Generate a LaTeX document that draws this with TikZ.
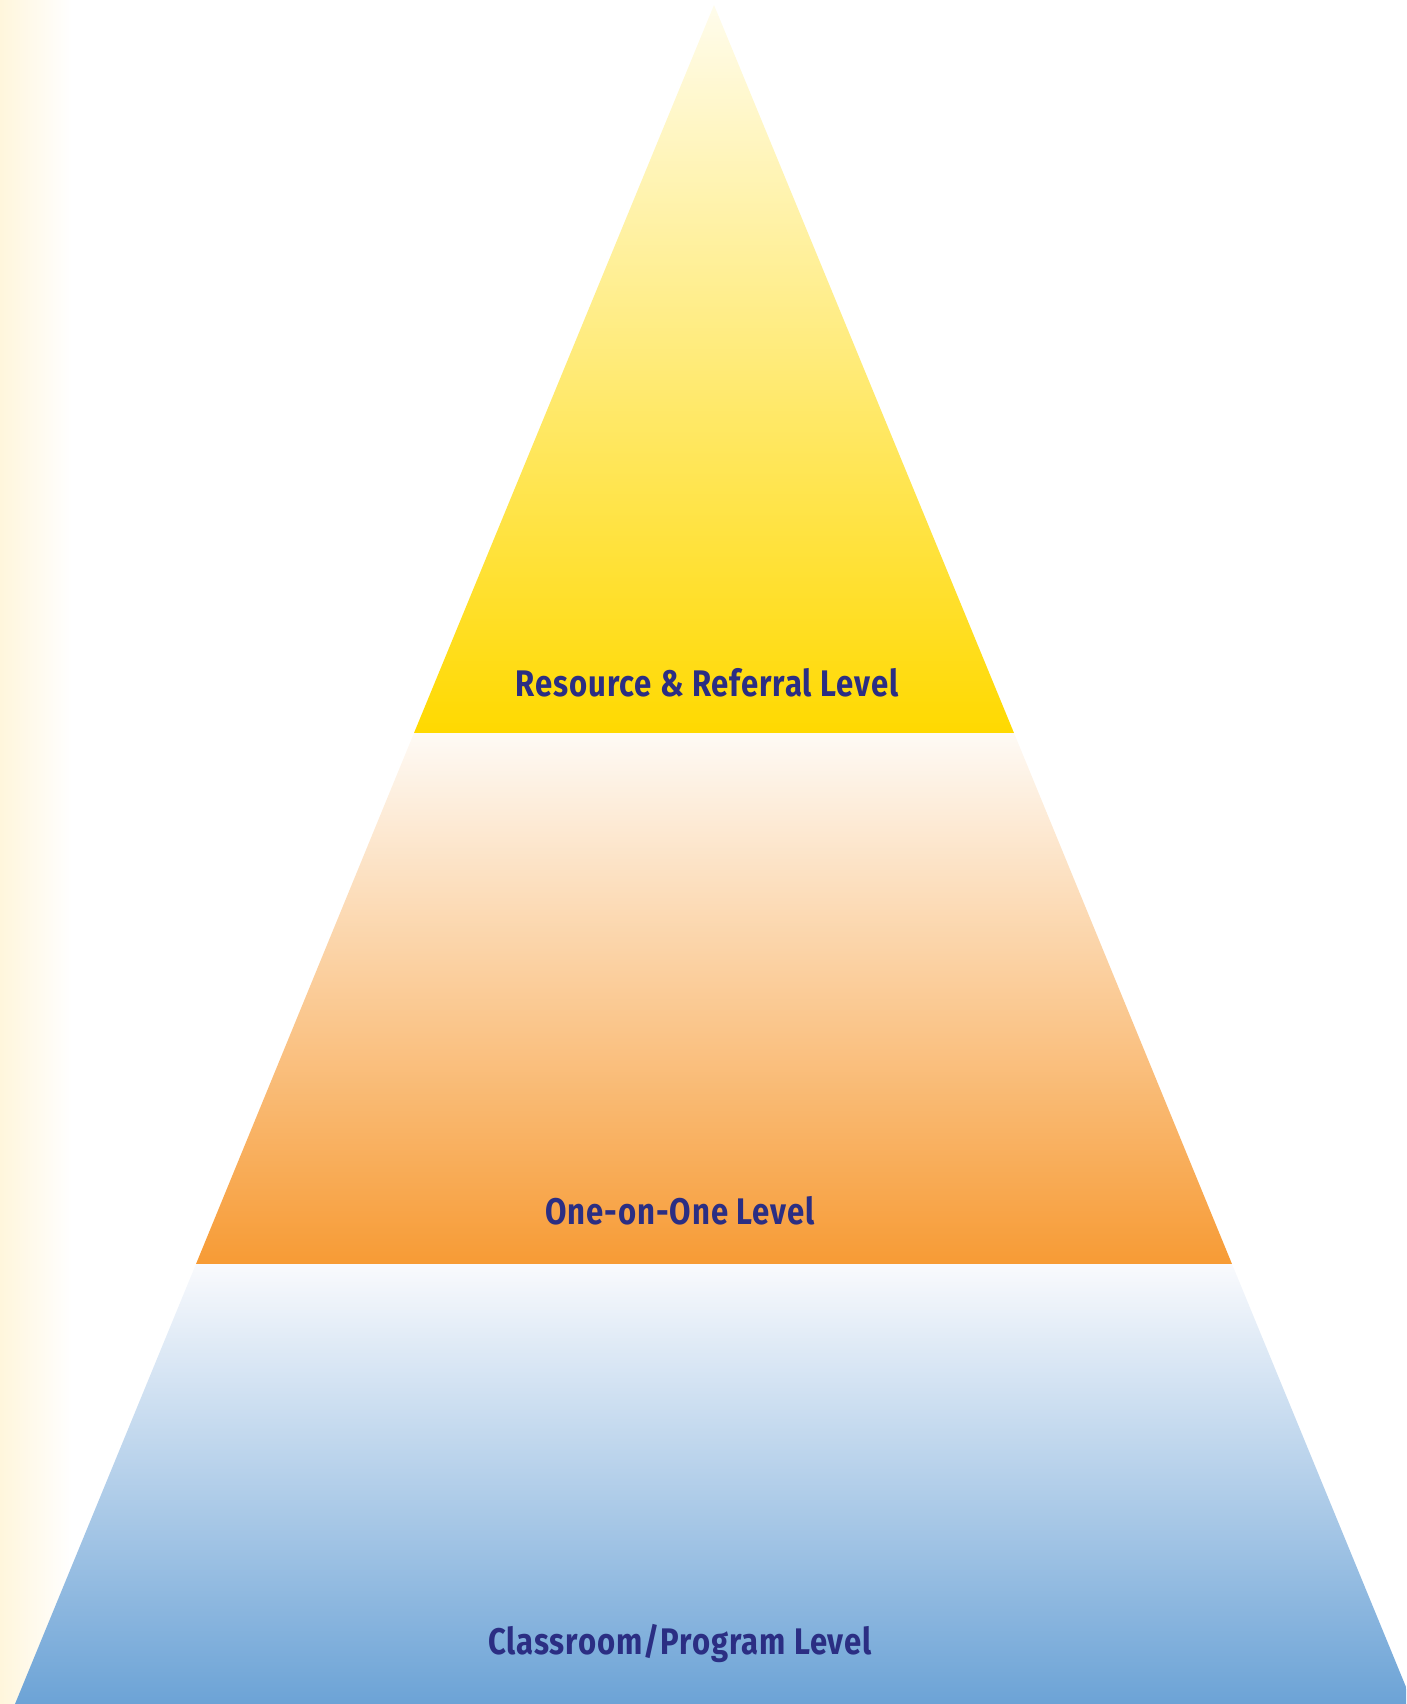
\documentclass[tikz,border=0pt]{standalone}
\usepackage{fontspec}
\setmainfont[FakeStretch=0.84,LetterSpace=2.5]{Fira Sans}
\definecolor{strip}{HTML}{FFF6DC}
\definecolor{ytop}{HTML}{FFFCEC}
\definecolor{ybot}{HTML}{FFD900}
\definecolor{otop}{HTML}{FEFAF5}
\definecolor{obot}{HTML}{F79B35}
\definecolor{btop}{HTML}{F9FAFD}
\definecolor{bbot}{HTML}{6CA3D6}
\definecolor{navy}{HTML}{2B2E83}
\tikzset{lvl/.style={text=navy,font=\fontsize{37}{40}\selectfont\bfseries,inner sep=0pt,anchor=center}}
\begin{document}
\begin{tikzpicture}
\useasboundingbox (0pt,0pt) rectangle (1406pt,-1704pt);
\shade[left color=strip,right color=white] (0pt,0pt) rectangle (72pt,-1704pt);
\coordinate (apex) at (714pt,-5pt);
\coordinate (l1) at (414pt,-733pt);
\coordinate (r1) at (1014pt,-733pt);
\coordinate (l2) at (196pt,-1264pt);
\coordinate (r2) at (1232pt,-1264pt);
\coordinate (l3) at (15pt,-1704pt);
\coordinate (r3) at (1413pt,-1704pt);
\begin{scope}
\clip (0pt,0pt) rectangle (1406pt,-1704pt);
\shade[top color=ytop,bottom color=ybot] (apex) -- (r1) -- (l1) -- cycle;
\shade[top color=otop,bottom color=obot] (l1) -- (r1) -- (r2) -- (l2) -- cycle;
\shade[top color=btop,bottom color=bbot] (l2) -- (r2) -- (r3) -- (l3) -- cycle;
\end{scope}
\node[lvl] (t1) at (707pt,-683pt) {Resource \& Referral Level};
\node[lvl] (t2) at (680pt,-1211pt) {One-on-One Level};
\node[lvl] (t3) at (680pt,-1643pt) {Classroom/Program Level};
\end{tikzpicture}
\end{document}
